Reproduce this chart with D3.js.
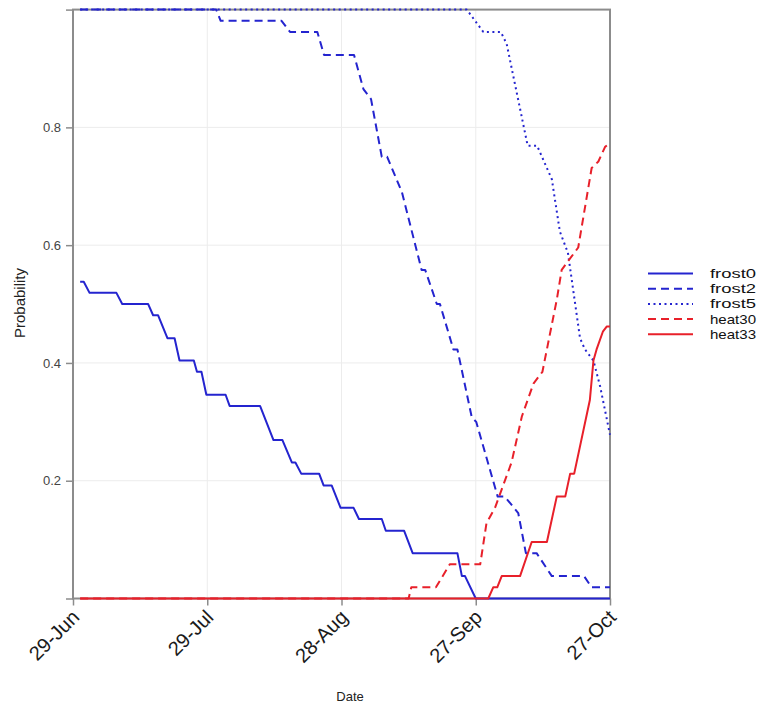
<!DOCTYPE html>
<html>
<head>
<meta charset="utf-8">
<script src="https://cdn.jsdelivr.net/npm/d3@7"></script>
<style>
  html, body { margin: 0; padding: 0; background: #fff; }
  svg { display: block; font-family: "Liberation Sans", Arial, Helvetica, sans-serif; }
</style>
</head>
<body>
<svg id="chart" width="761" height="706"></svg>
<script>
// ---- data (days after 29-Jun, probability) ----
const startDate = new Date(2021, 5, 29);
const tickDays = [0, 30, 60, 90, 120];
const yTicks = [0.2, 0.4, 0.6, 0.8];
const seriesNames = ["frost0", "frost2", "frost5", "heat30", "heat33"];

const frost0Days = [1.6, 2.4, 3.7, 9.7, 11, 16.8, 17.9, 19, 21.1, 22.7, 23.8, 27, 27.7, 28.7, 29.8, 34.1, 35, 41.8, 44.8, 46.8, 48.9, 49.7, 51, 55, 56, 57.8, 59.8, 62.7, 63.9, 69, 69.9, 74, 75.9, 85.9, 86.9, 87.6, 90, 120];
const frost0Vals = [0.538, 0.538, 0.519, 0.519, 0.500, 0.500, 0.481, 0.481, 0.442, 0.442, 0.404, 0.404, 0.385, 0.385, 0.346, 0.346, 0.327, 0.327, 0.269, 0.269, 0.231, 0.231, 0.212, 0.212, 0.192, 0.192, 0.154, 0.154, 0.135, 0.135, 0.115, 0.115, 0.077, 0.077, 0.038, 0.038, 0, 0];

const frost2Days = [1.6, 32, 33, 46.6, 48.5, 54.6, 56.1, 62.8, 64.9, 66.6, 69, 70.2, 73.5, 77.9, 78.7, 81.3, 82, 85, 85.9, 89.1, 90.1, 94.9, 96.5, 99.5, 101.2, 103.6, 107, 114.2, 115.9, 120];
const frost2Vals = [1, 1, 0.981, 0.981, 0.962, 0.962, 0.923, 0.923, 0.865, 0.848, 0.750, 0.750, 0.690, 0.558, 0.558, 0.500, 0.500, 0.423, 0.423, 0.308, 0.300, 0.173, 0.173, 0.145, 0.077, 0.077, 0.038, 0.038, 0.019, 0.019];

const frost5Days = [1.6, 88, 91.7, 95.6, 96.9, 101.6, 103.7, 107, 108.8, 110.6, 113.3, 114.4, 116.3, 117.8, 120];
const frost5Vals = [1, 1, 0.962, 0.962, 0.942, 0.769, 0.769, 0.712, 0.623, 0.587, 0.442, 0.423, 0.404, 0.360, 0.278];

const heat30Days = [1.6, 75, 75.6, 81.1, 84.2, 91, 92.4, 94.3, 98, 100.3, 102.9, 104.9, 108.1, 109.2, 112.9, 115.9, 117.4, 118.9, 120];
const heat30Vals = [0, 0, 0.019, 0.019, 0.058, 0.058, 0.128, 0.154, 0.231, 0.309, 0.365, 0.385, 0.507, 0.558, 0.596, 0.731, 0.742, 0.767, 0.773];

const heat33Days = [1.6, 92.8, 93.9, 94.8, 95.8, 99.9, 102.5, 105.9, 108.1, 110, 111.1, 112, 115.5, 116.3, 117, 118.4, 119.3, 120];
const heat33Vals = [0, 0, 0.019, 0.019, 0.038, 0.038, 0.096, 0.096, 0.173, 0.173, 0.212, 0.212, 0.337, 0.404, 0.423, 0.453, 0.462, 0.462];

// ---- styles ----
const BLUE = "#2424cf", RED = "#e8202a";
const styles = {
  frost0: { color: BLUE, dash: null },
  frost2: { color: BLUE, dash: "8,5" },
  frost5: { color: BLUE, dash: "2,3.5" },
  heat30: { color: RED, dash: "8,5" },
  heat33: { color: RED, dash: null }
};

const toDate = d => new Date(startDate.getTime() + d * 86400000);
const series = [
  { name: "frost0", days: frost0Days, vals: frost0Vals },
  { name: "frost2", days: frost2Days, vals: frost2Vals },
  { name: "frost5", days: frost5Days, vals: frost5Vals },
  { name: "heat30", days: heat30Days, vals: heat30Vals },
  { name: "heat33", days: heat33Days, vals: heat33Vals }
].map(s => ({ name: s.name, pts: s.days.map((d, i) => ({ date: toDate(d), v: s.vals[i] })) }));

const svg = d3.select("#chart");
const L = 73, R = 610, T = 9.6, B = 598.5;

const x = d3.scaleTime().domain([toDate(0), toDate(120)]).range([L, R]);
const y = d3.scaleLinear().domain([0, 1]).range([B, T]);

const tickDates = tickDays.map(toDate);
const fmt = d3.timeFormat("%d-%b");

// grid
const grid = svg.append("g");
grid.selectAll("line.gy").data(yTicks).join("line")
  .attr("x1", L).attr("x2", R).attr("y1", d => y(d)).attr("y2", d => y(d))
  .attr("stroke", "#ececec").attr("stroke-width", 1);
grid.selectAll("line.gx").data(tickDates.slice(1, -1)).join("line")
  .attr("x1", d => x(d)).attr("x2", d => x(d)).attr("y1", T).attr("y2", B)
  .attr("stroke", "#ececec").attr("stroke-width", 1);

// axes
const axisColor = "#8c8c8c";
const yAxis = svg.append("g").attr("transform", `translate(${L},0)`)
  .call(d3.axisLeft(y).tickValues([0, 0.2, 0.4, 0.6, 0.8, 1]).tickSize(7).tickPadding(5)
    .tickFormat(d => (d === 0 || d === 1) ? "" : d3.format(".1f")(d)));
yAxis.select(".domain").remove();
yAxis.selectAll(".tick line").attr("stroke", axisColor).attr("stroke-width", 1.5);
yAxis.selectAll(".tick text").attr("fill", "#444").attr("font-size", "13px")
  .attr("font-family", "'Liberation Sans', Arial, sans-serif");

const xAxis = svg.append("g").attr("transform", `translate(0,${B})`)
  .call(d3.axisBottom(x).tickValues(tickDates).tickSize(7).tickFormat(fmt));
xAxis.select(".domain").remove();
xAxis.selectAll(".tick line").attr("stroke", axisColor).attr("stroke-width", 1.5);
xAxis.selectAll(".tick text")
  .attr("fill", "#1a1a1a").attr("font-size", "20px")
  .attr("font-family", "'Liberation Sans', Arial, sans-serif")
  .attr("text-anchor", "end")
  .attr("dy", null).attr("y", 0)
  .attr("transform", "translate(7,20) rotate(-45)");

// frame
svg.append("rect").attr("x", L).attr("y", T).attr("width", R - L).attr("height", B - T)
  .attr("fill", "none").attr("stroke", axisColor).attr("stroke-width", 2);

// lines
const line = d3.line().x(d => x(d.date)).y(d => y(d.v));
svg.append("g").selectAll("path").data(series).join("path")
  .attr("d", d => line(d.pts))
  .attr("fill", "none")
  .attr("stroke", d => styles[d.name].color)
  .attr("stroke-width", 2)
  .attr("stroke-dasharray", d => styles[d.name].dash)
  .attr("stroke-linejoin", "round");

// axis titles
svg.append("text").attr("x", 350).attr("y", 701).attr("text-anchor", "middle")
  .attr("font-size", "13px").attr("fill", "#222").text("Date");
svg.append("text").attr("transform", "translate(25,303) rotate(-90)").attr("text-anchor", "middle")
  .attr("font-size", "15px").attr("fill", "#222").text("Probability");

// legend
const leg = svg.append("g").attr("transform", "translate(648,273.5)");
const rows = leg.selectAll("g").data(seriesNames).join("g")
  .attr("transform", (d, i) => `translate(0,${i * 15.2})`);
rows.append("line").attr("x1", 0).attr("x2", 45).attr("y1", 0).attr("y2", 0)
  .attr("stroke", d => styles[d].color).attr("stroke-width", 2)
  .attr("stroke-dasharray", d => styles[d].dash);
rows.append("text").attr("x", 62).attr("y", 4.5).attr("font-size", "13px").attr("fill", "#111")
  .attr("textLength", 46).attr("lengthAdjust", "spacingAndGlyphs").text(d => d);
</script>
</body>
</html>
